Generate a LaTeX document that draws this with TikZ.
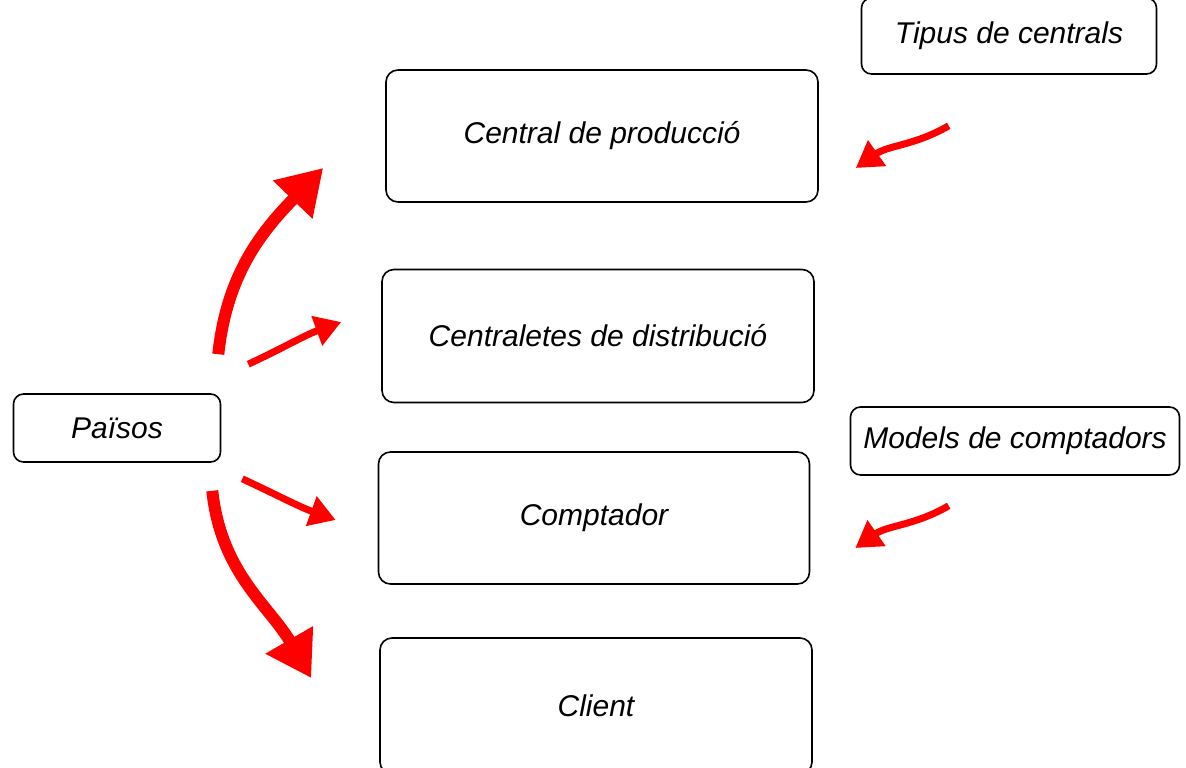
\documentclass[tikz,border=0pt]{standalone}
\usepackage{fontspec}
\setmainfont{Liberation Sans}
\usetikzlibrary{arrows.meta}

\begin{document}
\begin{tikzpicture}[
            x = 1pt, y = -1pt, % pixel units, y going down
            line join = round,
            font = \fontsize{30}{34}\selectfont\itshape
        ]

        \tikzstyle{bloc}=[
            draw = black,
            line width = 1.6pt,
            fill = white,
            rounded corners = 12pt,
            inner sep = 0pt
        ]
        \tikzstyle{gran}=[
            draw = red, line width = 12pt,
            -{Triangle[length=44pt, width=52pt]}
        ]
        \tikzstyle{petita}=[
            draw = red, line width = 7pt,
            -{Triangle[length=26pt, width=30pt]}
        ]

        \useasboundingbox (0,0) rectangle (1186,768);

        \node[bloc, minimum width = 432pt, minimum height = 132pt] (prod) at (602,136) {Central de producció};
        \node[bloc, minimum width = 432pt, minimum height = 133pt] (distr) at (598,336) {Centraletes de distribució};
        \node[bloc, minimum width = 431pt, minimum height = 132pt] (compt) at (594,518) {Comptador};
        \node[bloc, minimum width = 432pt, minimum height = 136pt] (client) at (596,706) {Client};

        \node[bloc, rounded corners = 10pt, minimum width = 295pt, minimum height = 76pt] (tipus) at (1009,36) {Tipus de centrals};
        \node[bloc, rounded corners = 10pt, minimum width = 329pt, minimum height = 68pt] (models) at (1015,441) {Models de comptadors};
        \node[bloc, rounded corners = 10pt, minimum width = 207pt, minimum height = 68pt] (paisos) at (117,428) {Països};

        % arrows from Paisos
        \draw[gran] ([xshift=-3pt, yshift=39pt]paisos.north east)
            to[out=84, in=226] ([xshift=-62pt, yshift=-32pt]prod.west);
        \draw[petita] ([xshift=27pt, yshift=29pt]paisos.north east)
            to[out=25, in=200] ([xshift=-40pt, yshift=14pt]distr.west);
        \draw[petita] ([xshift=21pt, yshift=-16pt]paisos.south east)
            to[out=-25, in=160] ([xshift=-42pt, yshift=-2pt]compt.west);
        \draw[gran] ([xshift=-9pt, yshift=-28pt]paisos.south east)
            to[out=-84, in=120] ([xshift=-68pt, yshift=28pt]client.west);

        % arrows towards the boxes on the right
        \draw[petita] ([xshift=88pt, yshift=-51pt]tipus.south west)
            to[out=210, in=35] ([xshift=37pt, yshift=-32pt]prod.east);
        \draw[petita] ([xshift=99pt, yshift=-30pt]models.south west)
            to[out=210, in=35] ([xshift=45pt, yshift=-30pt]compt.east);
    \end{tikzpicture}
\end{document}
